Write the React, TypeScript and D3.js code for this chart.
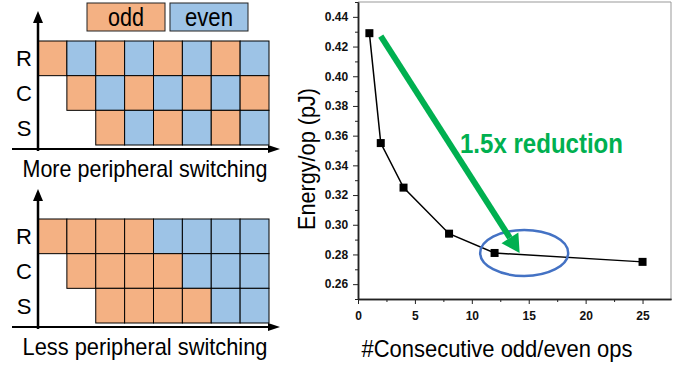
import * as d3 from "d3";
import { useEffect, useRef } from "react";

// plot data
const opsCount = [1, 2, 4, 8, 12, 25];
const energy = [0.429, 0.355, 0.325, 0.294, 0.281, 0.275];
const xTicks = [0, 5, 10, 15, 20, 25];
const yTicks = [0.26, 0.28, 0.3, 0.32, 0.34, 0.36, 0.38, 0.4, 0.42, 0.44];

// diagram data
const rowNames = ["R", "C", "S"];
const rowStart = [0, 1, 2];
const columns = [0, 1, 2, 3, 4, 5, 6, 7];
const morePattern = [
  ["odd", "even", "odd", "even", "odd", "even", "odd", "even"],
  [null, "odd", "even", "odd", "even", "odd", "even", "odd"],
  [null, null, "odd", "even", "odd", "even", "odd", "even"],
];
const lessPattern = [
  ["odd", "odd", "odd", "odd", "even", "even", "even", "even"],
  [null, "odd", "odd", "odd", "odd", "even", "even", "even"],
  [null, null, "odd", "odd", "odd", "odd", "even", "even"],
];
const legendKeys = ["odd", "even"];
const legendWidths = [36, 48];

const colors: Record<string, string> = { odd: "#f4b183", even: "#9dc3e6" };
const font = "Liberation Sans, Arial, sans-serif";

function drawDiagram(g: any, pattern: (string | null)[][], top: number, caption: string) {
  const x = d3.scaleBand<number>().domain(columns).range([38, 269]);
  const y = d3.scaleBand<string>().domain(rowNames).range([top + 34, top + 138]);

  pattern.forEach((row, ri) => {
    g.selectAll(null)
      .data(columns.filter((c) => c >= rowStart[ri]))
      .enter()
      .append("rect")
      .attr("x", (c: number) => x(c))
      .attr("y", y(rowNames[ri]))
      .attr("width", x.bandwidth())
      .attr("height", y.bandwidth())
      .attr("fill", (c: number) => colors[row[c] as string])
      .attr("stroke", "#000")
      .attr("stroke-width", 1);
  });

  g.selectAll(null)
    .data(rowNames)
    .enter()
    .append("text")
    .attr("x", 24)
    .attr("y", (d: string) => (y(d) as number) + y.bandwidth() / 2 + 8)
    .attr("text-anchor", "middle")
    .attr("font-family", font)
    .attr("font-size", 22)
    .text((d: string) => d);

  const axisY = top + 142;
  // axes with arrows
  g.append("line").attr("x1", 38).attr("x2", 38).attr("y1", axisY + 2).attr("y2", top + 14)
    .attr("stroke", "#000").attr("stroke-width", 2.5);
  g.append("path").attr("d", `M33,${top + 16} L38,${top + 4} L43,${top + 16} Z`).attr("fill", "#000");
  g.append("line").attr("x1", 12).attr("x2", 270).attr("y1", axisY).attr("y2", axisY)
    .attr("stroke", "#000").attr("stroke-width", 2);
  g.append("path").attr("d", `M268,${axisY - 4} L280,${axisY} L268,${axisY + 4} Z`).attr("fill", "#000");

  g.append("text")
    .attr("x", 145)
    .attr("y", axisY + 28)
    .attr("text-anchor", "middle")
    .attr("font-family", font)
    .attr("font-size", 24)
    .attr("textLength", 245)
    .attr("lengthAdjust", "spacingAndGlyphs")
    .text(caption);
}

export default function App() {
  const ref = useRef<SVGSVGElement>(null);

  useEffect(() => {
    const svg = d3.select(ref.current);
    svg.selectAll("*").remove();

    // legend
    const lx = d3.scaleBand<string>().domain(legendKeys).range([87, 248]).paddingInner(0.06);
    const leg = svg.append("g");
    leg.selectAll("rect").data(legendKeys).enter().append("rect")
      .attr("x", (d) => lx(d) as number).attr("y", 3)
      .attr("width", lx.bandwidth()).attr("height", 28)
      .attr("fill", (d) => colors[d]).attr("stroke", "#222").attr("stroke-width", 1);
    leg.selectAll("text").data(legendKeys).enter().append("text")
      .attr("x", (d) => (lx(d) as number) + lx.bandwidth() / 2).attr("y", 26)
      .attr("text-anchor", "middle")
      .attr("textLength", (d, i) => legendWidths[i]).attr("lengthAdjust", "spacingAndGlyphs")
      .attr("font-family", font).attr("font-size", 25).text((d) => d);

    drawDiagram(svg.append("g"), morePattern, 7, "More peripheral switching");
    drawDiagram(svg.append("g"), lessPattern, 185, "Less peripheral switching");

    // line chart
    const left = 358, right = 671, top = 2, bottom = 299;
    const x = d3.scaleLinear().domain([0, 27.5]).range([left, right]);
    const y = d3.scaleLinear().domain([0.25, 0.45]).range([bottom, top]);

    const plot = svg.append("g");
    plot.append("line").attr("x1", left).attr("x2", right).attr("y1", top).attr("y2", top)
      .attr("stroke", "#999").attr("stroke-width", 1);
    plot.append("line").attr("x1", right).attr("x2", right).attr("y1", top).attr("y2", bottom)
      .attr("stroke", "#999").attr("stroke-width", 1);

    const xAxis = plot.append("g").attr("transform", `translate(0,${bottom})`)
      .call(d3.axisBottom(x).tickValues(xTicks).tickFormat(d3.format("d")).tickSize(5).tickSizeOuter(0));
    const xMinor = plot.append("g").attr("transform", `translate(0,${bottom})`)
      .call(d3.axisBottom(x).tickValues(d3.range(2.5, 27.5, 5)).tickFormat(() => "").tickSize(3).tickSizeOuter(0));
    const yAxis = plot.append("g").attr("transform", `translate(${left},0)`)
      .call(d3.axisLeft(y).tickValues(yTicks).tickFormat(d3.format(".2f")).tickSize(5).tickSizeOuter(0));
    const yMinor = plot.append("g").attr("transform", `translate(${left},0)`)
      .call(d3.axisLeft(y).tickValues(d3.range(0.25, 0.455, 0.02)).tickFormat(() => "").tickSize(3).tickSizeOuter(0));

    [xAxis, xMinor, yAxis, yMinor].forEach((a) => {
      a.select(".domain").attr("stroke", "#222").attr("stroke-width", 1.5);
      a.selectAll(".tick line").attr("stroke", "#222").attr("stroke-width", 1);
      a.selectAll("text").attr("font-family", font).attr("font-size", 12)
        .attr("font-weight", "bold").attr("fill", "#111");
    });
    xAxis.selectAll("text").attr("dy", "1.05em");
    yAxis.selectAll("text").attr("dx", "-0.15em");

    const line = d3.line<number>().x((d) => x(d)).y((d, i) => y(energy[i]));
    plot.append("path").datum(opsCount).attr("d", line).attr("fill", "none")
      .attr("stroke", "#000").attr("stroke-width", 1.5);
    plot.selectAll(".pt").data(opsCount).enter().append("rect").attr("class", "pt")
      .attr("x", (d) => x(d) - 4).attr("y", (d, i) => y(energy[i]) - 4)
      .attr("width", 8).attr("height", 8).attr("fill", "#000");

    // annotation: ellipse, arrow, text
    plot.append("ellipse").attr("cx", x(14.6)).attr("cy", y(0.281)).attr("rx", 44).attr("ry", 23)
      .attr("fill", "none").attr("stroke", "#4472c4").attr("stroke-width", 2.5);

    const ax1 = x(2), ay1 = y(0.427), ax2 = x(14.2), ay2 = y(0.281);
    const ang = Math.atan2(ay2 - ay1, ax2 - ax1);
    const headLen = 18, headW = 10;
    const bx = ax2 - headLen * Math.cos(ang), by = ay2 - headLen * Math.sin(ang);
    plot.append("line").attr("x1", ax1).attr("y1", ay1).attr("x2", bx).attr("y2", by)
      .attr("stroke", "#00b050").attr("stroke-width", 6);
    const px = -Math.sin(ang), py = Math.cos(ang);
    plot.append("path")
      .attr("d", `M${ax2},${ay2} L${bx + px * headW},${by + py * headW} L${bx - px * headW},${by - py * headW} Z`)
      .attr("fill", "#00b050");
    plot.append("text").attr("x", 460).attr("y", 153).attr("font-family", font)
      .attr("font-size", 27).attr("font-weight", "bold").attr("fill", "#00b050")
      .attr("textLength", 163).attr("lengthAdjust", "spacingAndGlyphs").text("1.5x reduction");

    plot.append("text").attr("transform", `translate(315,159) rotate(-90)`).attr("text-anchor", "middle")
      .attr("font-family", font).attr("font-size", 24)
      .attr("textLength", 142).attr("lengthAdjust", "spacingAndGlyphs").text("Energy/op (pJ)");
    plot.append("text").attr("x", 497).attr("y", 357).attr("text-anchor", "middle")
      .attr("font-family", font).attr("font-size", 24)
      .attr("textLength", 271).attr("lengthAdjust", "spacingAndGlyphs").text("#Consecutive odd/even ops");
  }, []);

  return <svg ref={ref} width={688} height={368} style={{ position: "absolute", left: 0, top: 0 }} />;
}
